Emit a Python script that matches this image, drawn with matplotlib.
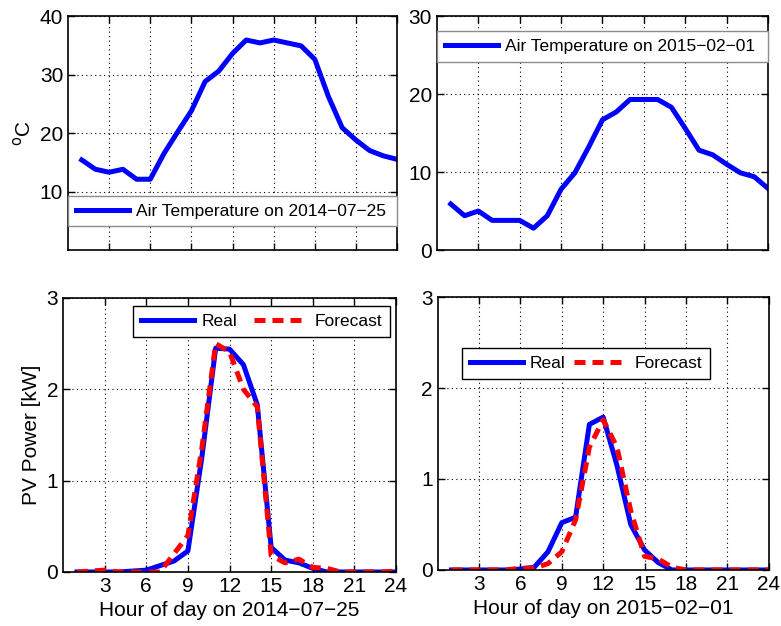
import matplotlib
matplotlib.use("Agg")
import matplotlib.pyplot as plt

plt.rcParams["font.family"] = ["Liberation Sans", "DejaVu Sans"]

hours = list(range(1, 25))

temp_summer = [15.4, 13.8, 13.3, 13.8, 12.1, 12.1, 16.5, 20.2, 23.8, 28.8, 30.6, 33.6,
               35.9, 35.4, 35.9, 35.4, 34.9, 32.6, 26.2, 20.9, 18.8, 17.0, 16.1, 15.5]
temp_winter = [5.9, 4.4, 5.0, 3.8, 3.8, 3.8, 2.8, 4.4, 7.8, 9.9, 13.2, 16.7,
               17.7, 19.3, 19.3, 19.3, 18.3, 15.6, 12.8, 12.2, 11.0, 9.9, 9.4, 7.9]

pv_real_summer = [0.0, 0.0, 0.0, 0.0, 0.01, 0.02, 0.07, 0.12, 0.23, 1.25, 2.45, 2.44,
                  2.27, 1.83, 0.27, 0.13, 0.10, 0.04, 0.0, 0.0, 0.0, 0.0, 0.0, 0.0]
pv_fc_summer = [0.0, 0.01, 0.02, 0.0, 0.0, 0.0, 0.0, 0.2, 0.4, 1.35, 2.5, 2.41,
                2.0, 1.81, 0.18, 0.10, 0.14, 0.05, 0.04, 0.0, 0.0, 0.0, 0.0, 0.01]
pv_real_winter = [0.0, 0.0, 0.0, 0.0, 0.0, 0.01, 0.03, 0.2, 0.52, 0.58, 1.6, 1.68,
                  1.15, 0.5, 0.22, 0.08, 0.0, 0.0, 0.0, 0.0, 0.0, 0.0, 0.0, 0.0]
pv_fc_winter = [0.0, 0.0, 0.0, 0.0, 0.0, 0.02, 0.02, 0.07, 0.2, 0.55, 1.35, 1.65,
                1.35, 0.65, 0.15, 0.12, 0.03, 0.0, 0.0, 0.0, 0.0, 0.0, 0.0, 0.0]

xticks = [3, 6, 9, 12, 15, 18, 21, 24]
day_summer = "2014\u221207\u221225"
day_winter = "2015\u221202\u221201"

BLUE = "#0000ff"
RED = "#ff0000"
LW = 3.6
DASH = (0, (2.2, 1.4))
TICK_FS = 15
LEG_FS = 12.5
LEG_KW = dict(fontsize=LEG_FS, fancybox=False, framealpha=1, handlelength=3.05,
              handletextpad=0.4, borderpad=0.45, borderaxespad=0)


def style_axes(ax, ylim, yticks, xlabels=True):
    ax.set_xlim(0, 24)
    ax.set_ylim(*ylim)
    ax.set_xticks(xticks)
    ax.set_yticks(yticks)
    if not xlabels:
        ax.set_xticklabels([])
    ax.grid(True, linestyle=(0, (1, 3)), color="black", linewidth=0.8)
    ax.tick_params(direction="in", top=True, right=True, labelsize=TICK_FS,
                   length=5, width=1)
    for s in ax.spines.values():
        s.set_linewidth(1.2)


fig = plt.figure(figsize=(7.81, 6.26), dpi=100)

# air temperature, summer day
ax1 = fig.add_axes([0.0871, 0.6006, 0.4213, 0.3738])
ax1.plot(hours, temp_summer, color=BLUE, lw=LW,
         label="Air Temperature on " + day_summer)
style_axes(ax1, (0, 40), [10, 20, 30, 40], xlabels=False)
ax1.set_ylabel("$^{\\rm o}$C", fontsize=TICK_FS)
leg = ax1.legend(loc="center", bbox_to_anchor=(0, 0.098, 1, 0.137), mode="expand", **LEG_KW)
leg.get_frame().set_edgecolor("#8c8c8c")

# air temperature, winter day
ax2 = fig.add_axes([0.5595, 0.6006, 0.4238, 0.3738])
ax2.plot(hours, temp_winter, color=BLUE, lw=LW,
         label="Air Temperature on " + day_winter)
style_axes(ax2, (0, 30), [0, 10, 20, 30], xlabels=False)
leg = ax2.legend(loc="center", bbox_to_anchor=(0, 0.80, 1, 0.14), mode="expand", **LEG_KW)
leg.get_frame().set_edgecolor("#8c8c8c")

# PV power, summer day
ax3 = fig.add_axes([0.0807, 0.0863, 0.4264, 0.4377])
ax3.plot(hours, pv_real_summer, color=BLUE, lw=LW, label="Real")
ax3.plot(hours, pv_fc_summer, color=RED, lw=LW, ls=DASH, label="Forecast")
style_axes(ax3, (0, 3), [0, 1, 2, 3])
ax3.set_ylabel("PV Power [kW]", fontsize=TICK_FS)
ax3.set_xlabel("Hour of day on " + day_summer, fontsize=TICK_FS)
leg = ax3.legend(loc="center", bbox_to_anchor=(0.596, 0.914), ncol=2,
                 columnspacing=1.0, **LEG_KW)
leg.get_frame().set_edgecolor("black")

# PV power, winter day
ax4 = fig.add_axes([0.5604, 0.0895, 0.4238, 0.436])
ax4.plot(hours, pv_real_winter, color=BLUE, lw=LW, label="Real")
ax4.plot(hours, pv_fc_winter, color=RED, lw=LW, ls=DASH, label="Forecast")
style_axes(ax4, (0, 3), [0, 1, 2, 3])
ax4.set_xlabel("Hour of day on " + day_winter, fontsize=TICK_FS)
leg = ax4.legend(loc="center", bbox_to_anchor=(0.448, 0.756), ncol=2,
                 columnspacing=0.5, **LEG_KW)
leg.get_frame().set_edgecolor("black")

fig.savefig("out.png", dpi=100)
